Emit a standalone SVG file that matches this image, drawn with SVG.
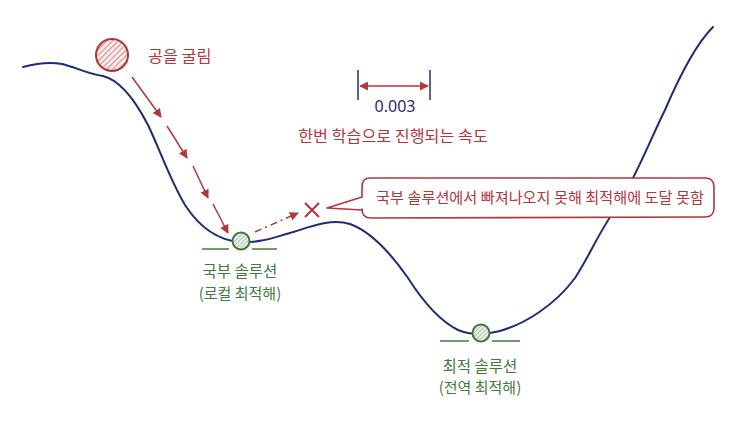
<svg xmlns="http://www.w3.org/2000/svg" width="750" height="441" viewBox="0 0 750 441">
<style>
.red{fill:#b2363a;font-family:"Noto Sans CJK KR","Noto Sans",sans-serif;}
.grn{fill:#3f7a40;font-family:"Noto Sans CJK KR","Noto Sans",sans-serif;}
.blu{fill:#1f2c78;font-family:"Noto Sans","DejaVu Sans",sans-serif;}
.curve{fill:none;stroke:#1f2c78;stroke-width:2;stroke-linecap:round;}
.rline{fill:none;stroke:#b2363a;stroke-width:1.5;}
.gline{stroke:#3f7a40;stroke-width:1.5;}
</style>
<defs>
<pattern id="hr" width="4" height="4" patternUnits="userSpaceOnUse" patternTransform="rotate(45)">
<rect width="4" height="4" fill="#fbeaea"/>
<line x1="0" y1="0" x2="0" y2="4" stroke="#c0474a" stroke-width="1.2"/>
</pattern>
<pattern id="hg" width="3" height="3" patternUnits="userSpaceOnUse" patternTransform="rotate(45)">
<rect width="3" height="3" fill="#eef2ea"/>
<line x1="0" y1="0" x2="0" y2="3" stroke="#7d8f78" stroke-width="1"/>
</pattern>
<marker id="ah" viewBox="0 0 10 10" refX="9" refY="5" markerWidth="9" markerHeight="9" markerUnits="userSpaceOnUse" orient="auto-start-reverse">
<path d="M0,0 L10,5 L0,10 z" fill="#b2363a"/>
</marker>
</defs>
<rect width="750" height="441" fill="#ffffff"/>

<g id="landscape">
<path class="curve" d="M23,67 C38,63 50,62 62,64 C75,67 88,74 103,76 C120,80 135,100 148,125 C160,150 170,180 185,205 C198,225 215,240 240,242 C260,243 272,238 290,233 C310,227 330,218 350,224 C372,232 392,255 408,278 C422,300 438,320 458,330 C470,335 485,335 500,331 C525,324 555,305 575,278 C590,255 600,230 615,210 C635,180 650,140 665,110 C680,75 695,45 713,27"/>
</g>

<g id="connectors">
<line class="rline" x1="132" y1="77" x2="161" y2="117" marker-end="url(#ah)"/>
<line class="rline" x1="167" y1="126" x2="187" y2="158" marker-end="url(#ah)"/>
<line class="rline" x1="193" y1="166" x2="208" y2="198" marker-end="url(#ah)"/>
<line class="rline" x1="213" y1="204" x2="228" y2="233" marker-end="url(#ah)"/>
<line class="rline" x1="255" y1="232" x2="298" y2="213" stroke-dasharray="7,4,2,4" marker-end="url(#ah)"/>
</g>

<g id="ball">
<circle cx="112" cy="55" r="16" fill="url(#hr)" stroke="#b2363a" stroke-width="2"/>
<text class="red" x="148" y="62" font-size="16.3">공을 굴림</text>
</g>

<g id="step">
<line x1="358" y1="70" x2="358" y2="100" stroke="#1f2c78" stroke-width="1.5"/>
<line x1="430" y1="70" x2="430" y2="100" stroke="#1f2c78" stroke-width="1.5"/>
<line class="rline" x1="360" y1="86" x2="428" y2="86" marker-start="url(#ah)" marker-end="url(#ah)"/>
<text class="blu" x="395" y="112" font-size="16" text-anchor="middle">0.003</text>
<text class="red" x="393" y="142" font-size="16.2" text-anchor="middle">한번 학습으로 진행되는 속도</text>
</g>

<g id="fail">
<path d="M305,203 L319,217 M319,203 L305,217" stroke="#b2363a" stroke-width="2" fill="none"/>
</g>

<g id="callout">
<path d="M370,178 L705,178 Q714,178 714,187 L714,208 Q714,217 705,217 L371,218 Q362,218 362,209 L362,210 L327,208 L362,197 L362,187 Q362,178 370,178 Z" fill="#ffffff" stroke="#b2363a" stroke-width="1.6" stroke-linejoin="round"/>
<text class="red" x="540" y="203" font-size="15.2" text-anchor="middle">국부 솔루션에서 빠져나오지 못해 최적해에 도달 못함</text>
</g>

<g id="local">
<line class="gline" x1="202" y1="249" x2="229" y2="249"/>
<line class="gline" x1="252" y1="249" x2="277" y2="249"/>
<circle cx="241" cy="241" r="8.5" fill="url(#hg)" stroke="#3f7a40" stroke-width="2"/>
<text class="grn" x="240" y="277" font-size="15.5" text-anchor="middle">국부 솔루션</text>
<text class="grn" x="240" y="299" font-size="15" text-anchor="middle">(로컬 최적해)</text>
</g>

<g id="global">
<line class="gline" x1="440" y1="341" x2="469" y2="341"/>
<line class="gline" x1="492" y1="341" x2="520" y2="341"/>
<circle cx="481" cy="333" r="8.5" fill="url(#hg)" stroke="#3f7a40" stroke-width="2"/>
<text class="grn" x="480" y="372" font-size="15.5" text-anchor="middle">최적 솔루션</text>
<text class="grn" x="480" y="393" font-size="15" text-anchor="middle">(전역 최적해)</text>
</g>
</svg>
